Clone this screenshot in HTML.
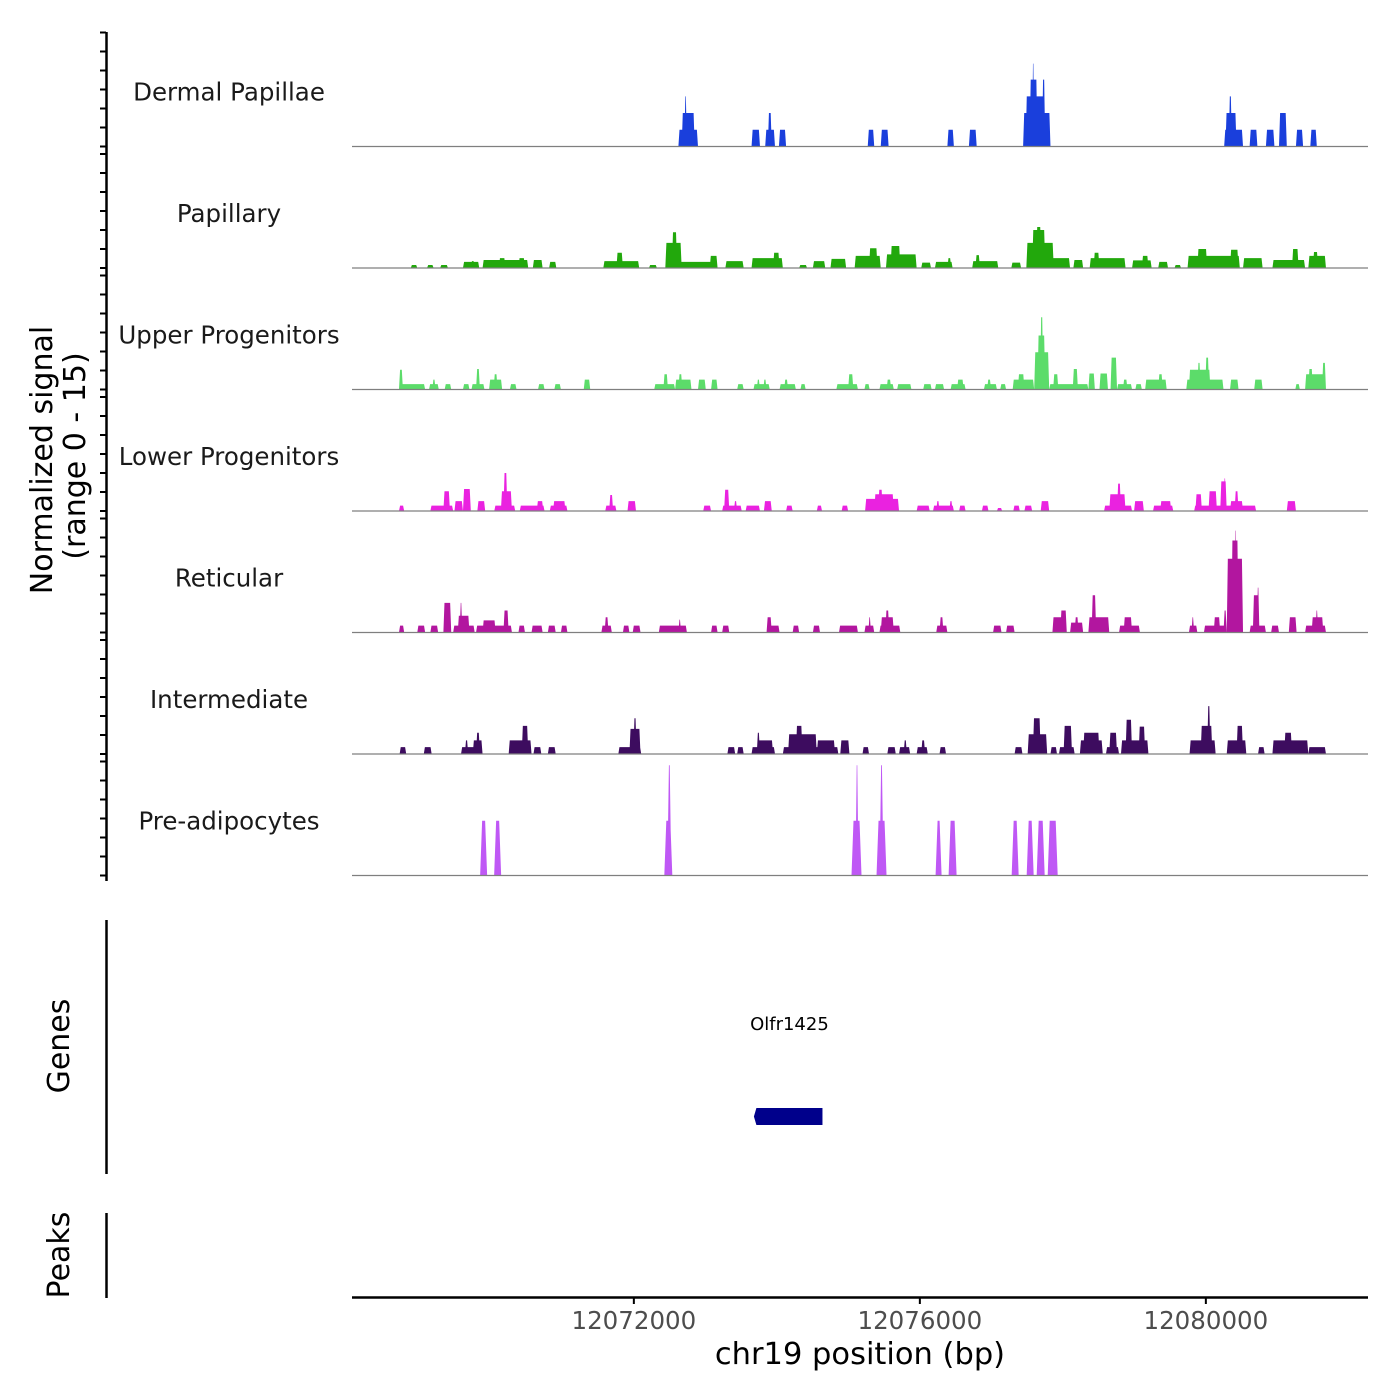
<!DOCTYPE html>
<html><head><meta charset="utf-8"><title>Coverage plot</title>
<style>html,body{margin:0;padding:0;background:#fff}svg{display:block}text{font-family:"DejaVu Sans","Liberation Sans",sans-serif}</style>
</head><body>
<svg id="chart" width="1400" height="1400" viewBox="0 0 1400 1400" xmlns="http://www.w3.org/2000/svg">
<g id="yaxis"></g>
<text transform="translate(52,460) rotate(-90)" text-anchor="middle" font-size="30" fill="#000">Normalized signal</text>
<text transform="translate(85,456) rotate(-90)" text-anchor="middle" font-size="30" fill="#000">(range 0 - 15)</text>
<g id="tracks"></g>
<line x1="106.5" y1="920" x2="106.5" y2="1174" stroke="#000" stroke-width="2.5"/>
<text transform="translate(69,1046) rotate(-90)" text-anchor="middle" font-size="30">Genes</text>
<g id="genes"></g>
<line x1="106.5" y1="1213" x2="106.5" y2="1298" stroke="#000" stroke-width="2.5"/>
<text transform="translate(69,1255) rotate(-90)" text-anchor="middle" font-size="30">Peaks</text>
<g id="xaxis"></g>
<text x="860" y="1364" text-anchor="middle" font-size="30.5">chr19 position (bp)</text>
</svg>
<script>
const regionStart = 12068058;
const xTicks = [12072000, 12076000, 12080000];
const trackNames = ["Dermal Papillae","Papillary","Upper Progenitors","Lower Progenitors","Reticular","Intermediate","Pre-adipocytes"];
const trackColors = ["#1a3fdc","#22a80c","#5cdc6a","#ea22e0","#b2169f","#3d0c5f","#bf58f5"];
// segments: start/end in bp offset from regionStart, value = normalized signal
const dpStart=[4565,4611,4647,5588,5779,5816,5971,7213,7395,8327,8628,9386,9422,9477,9513,9650,12198,12216,12262,12554,12782,12965,13202,13403];
const dpEnd  =[4839,4793,4684,5706,5916,5871,6071,7304,7505,8418,8737,9769,9696,9587,9541,9696,12462,12371,12307,12663,12901,13074,13302,13494];
const dpVal  =[2.2,4.4,6.6,2.2,2.2,4.4,2.2,2.2,2.2,2.2,2.2,4.4,6.6,8.8,10.9,8.8,2.2,4.4,6.6,2.2,2.2,4.4,2.2,2.2];
const paStart=[822,1050,1233,1552,1662,1826,2054,2328,2529,2757,3515,3698,4154,4382,4382,4474,5003,5222,5588,5889,6254,6446,6692,7030,7231,7468,7532,7961,8153,8327,8674,8719,9221,9431,9513,9568,9723,10089,10317,10372,10910,11047,11276,11504,11686,11823,12280,12462,12873,13147,13375,13439];
const paEnd  =[913,1141,1342,1780,1716,2465,2146,2419,2666,2858,4017,3789,4264,5113,4611,4547,5113,5478,6026,5980,6364,6619,6911,7395,7350,7897,7669,8098,8400,8381,9039,8783,9358,9815,9696,9641,10043,10226,10819,10454,11184,11139,11413,11595,12417,11960,12399,12736,13330,13239,13622,13512];
const paVal  =[0.4,0.4,0.4,0.8,0.9,1.05,1.3,1.3,1.05,0.8,0.9,2.0,0.4,0.8,3.3,4.7,1.6,0.9,1.3,2.0,0.4,0.9,1.2,1.6,2.6,1.8,2.9,0.7,0.8,1.3,0.9,1.7,0.7,3.3,5.0,5.4,1.3,1.05,1.3,2.0,1.0,1.6,0.8,0.4,1.6,2.5,2.4,1.3,1.05,2.5,1.6,2.1];
const upStart=[657,657,1077,1123,1296,1552,1671,1735,1917,1981,2209,2602,2830,3241,4227,4355,4519,4565,4839,5022,5387,5615,5661,5752,5980,6044,6272,6774,6939,7167,7377,7477,7624,7989,8153,8372,8463,8838,8883,9066,9240,9313,9541,9587,9623,9751,9806,10080,10299,10454,10609,10700,10783,10956,11093,11276,11668,11705,11823,11933,12280,12618,13193,13330,13375,13567];
const upEnd  =[1023,712,1214,1169,1388,1643,1853,1789,2100,2036,2301,2693,2922,3332,4519,4419,4748,4620,4948,5113,5478,5843,5706,5798,6208,6099,6345,7076,7012,7240,7578,7541,7824,8107,8281,8582,8555,9020,8938,9148,9541,9404,9751,9696,9669,10299,9879,10153,10390,10573,10700,10910,10846,11047,11394,11339,12189,12006,11869,11988,12399,12736,13257,13622,13439,13622];
const upVal  =[0.7,2.6,0.7,1.3,0.7,0.7,0.7,2.7,1.3,2.0,0.7,0.7,0.7,1.3,0.7,2.0,1.3,2.0,1.3,1.3,0.7,0.7,1.3,1.3,0.7,1.3,0.7,0.7,2.0,0.7,0.7,1.3,0.7,0.7,0.7,0.7,1.3,0.7,1.3,0.7,1.3,2.0,4.9,7.1,9.5,0.7,2.0,2.7,2.1,2.1,4.2,0.7,1.3,0.7,1.3,2.0,1.3,2.6,3.5,4.2,1.3,1.3,0.7,2.0,2.7,3.5];
const loStart=[657,1096,1278,1433,1552,1753,1990,2082,2118,2346,2584,2766,2812,3542,3597,3853,4912,5177,5204,5341,5505,5761,6071,6501,6848,7176,7304,7359,7897,8126,8171,8354,8491,8810,9020,9249,9404,9632,10518,10591,10700,10938,11203,11303,11778,11796,11979,12143,12189,12280,12344,13074];
const loEnd  =[730,1415,1370,1552,1662,1863,2283,2237,2173,2693,2675,3013,2986,3698,3652,3972,5022,5451,5277,5387,5706,5871,6163,6574,6939,7651,7578,7423,8080,8418,8217,8400,8582,8902,9093,9340,9513,9751,10910,10819,10755,11075,11486,11458,12645,11887,12097,12234,12225,12462,12399,13202];
const loVal  =[0.7,0.7,2.6,1.3,2.9,1.3,0.7,2.6,5.0,0.7,1.3,0.7,1.3,0.7,2.1,1.3,0.7,0.7,2.8,1.3,0.7,1.3,0.7,0.7,0.7,1.6,2.2,2.8,0.7,0.7,1.3,1.3,0.7,0.7,0.4,0.7,0.7,1.3,0.7,2.2,3.6,1.3,0.7,1.3,0.7,2.2,2.6,3.9,4.3,1.3,2.6,1.3];
const reStart=[657,913,1096,1278,1415,1479,1506,1735,1826,2118,2328,2511,2739,2922,3488,3533,3789,3926,4291,4565,5022,5177,5798,5798,6163,6446,6811,7167,7222,7377,7395,7459,8171,8217,8966,9148,9796,9906,10043,10107,10299,10344,10728,10792,11705,11741,11915,12052,12189,12234,12298,12344,12554,12599,12654,12855,13102,13330,13421,13476];
const reEnd  =[730,1023,1205,1388,1716,1643,1543,2237,2009,2191,2419,2666,2849,3013,3634,3588,3880,4035,4684,4602,5113,5277,5980,5871,6254,6546,7076,7304,7258,7669,7578,7514,8327,8272,9084,9267,9997,9997,10226,10162,10591,10408,11020,10910,11823,11778,12234,12143,12234,12462,12399,12371,12782,12691,12691,12965,13211,13622,13585,13512];
const reVal  =[0.9,0.9,0.9,3.9,0.9,2.2,3.9,0.9,1.6,2.9,0.9,0.9,0.9,0.9,0.9,2.0,0.9,0.9,0.9,1.7,0.9,0.9,0.9,2.0,0.9,0.9,0.9,0.9,2.0,0.9,2.0,2.9,0.9,2.0,0.9,0.9,2.0,2.9,1.3,2.0,2.0,4.9,0.9,2.0,0.9,2.0,0.9,2.0,2.9,9.7,12.1,13.4,0.9,4.9,5.9,0.9,2.0,0.9,2.0,2.9];
const inStart=[666,1004,1525,1579,1689,1735,2191,2374,2538,2739,3725,3880,3935,5250,5387,5588,5661,5661,6026,6099,6208,6501,6829,7140,7487,7651,7715,7897,7961,8217,9267,9450,9523,9769,9888,9952,10180,10226,10545,10591,10755,10819,11002,11714,11869,11960,12234,12371,12672,12873,13038,13375];
const inEnd  =[758,1114,1826,1625,1826,1789,2511,2465,2648,2849,4045,4035,3981,5359,5478,5916,5889,5706,6802,6501,6300,6756,6957,7231,7605,7806,7761,8053,8016,8308,9377,9723,9632,9860,10107,10070,10500,10454,10728,10700,11139,10910,11093,12079,12033,12006,12508,12462,12764,13375,13147,13622];
const inVal  =[0.9,0.9,0.9,1.8,1.8,2.8,1.8,3.7,0.9,0.9,0.9,3.3,4.7,0.9,0.9,0.9,1.8,2.8,0.9,2.6,3.7,1.8,1.8,0.9,0.9,0.9,1.8,0.9,1.8,0.9,0.9,2.6,4.7,0.9,0.9,3.7,1.8,2.8,0.9,2.8,1.8,4.5,3.6,1.8,3.7,6.3,1.8,3.7,0.9,1.8,2.8,0.9];
const adStart=[1792,1988,4368,4410,6986,7042,7336,7378,8162,8344,9226,9436,9576,9730];
const adEnd  =[1890,2086,4480,4466,7126,7084,7476,7434,8246,8456,9324,9534,9688,9870];
const adVal  =[7.2,7.2,7.2,14.5,7.2,14.5,7.2,14.5,7.2,7.2,7.2,7.2,7.2,7.2];
const geneNames=["Olfr1425"];
const geneStart=[5656];
const geneEnd=[6580];

const starts=[dpStart,paStart,upStart,loStart,reStart,inStart,adStart];
const ends=[dpEnd,paEnd,upEnd,loEnd,reEnd,inEnd,adEnd];
const vals=[dpVal,paVal,upVal,loVal,reVal,inVal,adVal];

const NS="http://www.w3.org/2000/svg";
const X0=352, X1=1368, PXPERBP=0.0715;
function xScale(off){return X0+off*PXPERBP;}
function xScaleAbs(bp){return xScale(bp-regionStart);}
const TRACK_H=121.5, BASE0=146.5, PX_PER_UNIT=7.6;
function baseY(i){return BASE0+TRACK_H*i;}
function hScale(v){return v*PX_PER_UNIT;}
function mk(tag,attrs,parent){const e=document.createElementNS(NS,tag);for(const k in attrs)e.setAttribute(k,attrs[k]);parent.appendChild(e);return e;}

const yax=document.getElementById('yaxis');
const axLine=mk('line',{x1:106.5,y1:32,x2:106.5,y2:881,stroke:'#000','stroke-width':2.5},yax);


for(let i=0;i<7;i++){
  for(let k=0;k<=6;k++){
    const y=baseY(i)-k*19;
    const t=mk('line',{x1:100,y1:y,x2:106,y2:y,stroke:'#000','stroke-width':2},yax);
    
    
  }
}

const tracks=document.getElementById('tracks');
for(let i=0;i<7;i++){
  const g=mk('g',{},tracks);
  
  
  const by=baseY(i);
  const lab=mk('text',{x:229,y:by-46,'text-anchor':'middle','font-size':24.5,fill:'#1a1a1a'},g);
  lab.textContent=trackNames[i];
  
  
  const ramp=(i===6)?2:1.1;
  let d='';
  for(let j=0;j<starts[i].length;j++){
    const a=xScale(starts[i][j]), b=xScale(ends[i][j]), h=hScale(vals[i][j]);
    const r=Math.min(ramp,(b-a)/2.5);
    d+='M'+a.toFixed(2)+','+by+'L'+(a+r).toFixed(2)+','+(by-h).toFixed(2)+'L'+(b-r).toFixed(2)+','+(by-h).toFixed(2)+'L'+b.toFixed(2)+','+by+'Z';
  }
  const p=mk('path',{d:d,fill:trackColors[i]},g);
  
  
  const bl=mk('line',{x1:X0,y1:by,x2:X1,y2:by,stroke:'#7f7f7f','stroke-width':1.2},g);
  
  
}

const genes=document.getElementById('genes');
for(let j=0;j<geneNames.length;j++){
  const a=xScale(geneStart[j]), b=xScale(geneEnd[j]);
  const r=mk('path',{d:'M'+a+',1108L'+(b)+',1108L'+b+',1125L'+a+',1125L'+(a-2.5)+',1116.5Z',fill:'#00008b'},genes);
  
  
  const t=mk('text',{x:(a+b)/2,y:1030,'text-anchor':'middle','font-size':18,fill:'#000'},genes);
  t.textContent=geneNames[j];
  
  
}

const xax=document.getElementById('xaxis');
const xl=mk('line',{x1:X0,y1:1297.5,x2:X1,y2:1297.5,stroke:'#000','stroke-width':2.5},xax);


for(const t of xTicks){
  const x=xScaleAbs(t);
  const tk=mk('line',{x1:x,y1:1297,x2:x,y2:1304,stroke:'#000','stroke-width':2},xax);
  
  
  const tl=mk('text',{x:x,y:1329,'text-anchor':'middle','font-size':24.5,fill:'#4d4d4d'},xax);
  tl.textContent=String(t);
  
  
}
</script>
</body></html>
